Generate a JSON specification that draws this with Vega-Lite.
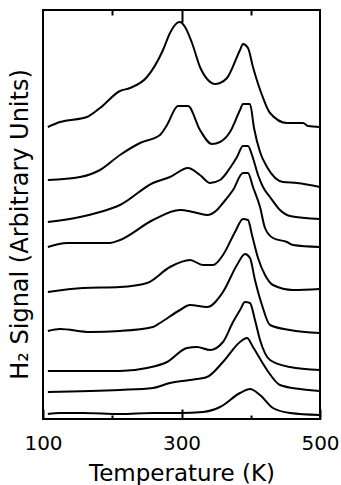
{
  "$schema": "https://vega.github.io/schema/vega-lite/v6.json",
  "width": 277,
  "height": 409,
  "autosize": "none",
  "padding": {"left": 43, "top": 10, "right": 21, "bottom": 66},
  "background": "white",
  "config": {"view": {"stroke": "black", "strokeWidth": 2}, "font": "DejaVu Sans"},
  "data": {"values": [
    {"c":1,"t":107,"v":292},{"c":1,"t":124.5,"v":297},{"c":1,"t":163.5,"v":302},{"c":1,"t":182.3,"v":311},{"c":1,"t":211.2,"v":328},{"c":1,"t":225.6,"v":331},{"c":1,"t":250.2,"v":342},{"c":1,"t":273.3,"v":369},{"c":1,"t":283.4,"v":386},{"c":1,"t":293.5,"v":396},{"c":1,"t":297.8,"v":397},{"c":1,"t":305.1,"v":392},{"c":1,"t":315.2,"v":376},{"c":1,"t":326.7,"v":352},{"c":1,"t":338.3,"v":339},{"c":1,"t":348.4,"v":335},{"c":1,"t":355.6,"v":336},{"c":1,"t":365.7,"v":341},{"c":1,"t":384.5,"v":369},{"c":1,"t":388.8,"v":375},{"c":1,"t":396,"v":371},{"c":1,"t":403.2,"v":352},{"c":1,"t":416.2,"v":324},{"c":1,"t":427.8,"v":306},{"c":1,"t":452.3,"v":296},{"c":1,"t":475.5,"v":296},{"c":1,"t":482.7,"v":293},{"c":1,"t":500,"v":292},
    {"c":2,"t":107,"v":239},{"c":2,"t":153.4,"v":242},{"c":2,"t":182.3,"v":249},{"c":2,"t":211.2,"v":264},{"c":2,"t":240.1,"v":276},{"c":2,"t":268.9,"v":284},{"c":2,"t":279.1,"v":294},{"c":2,"t":294.9,"v":313},{"c":2,"t":309.4,"v":313},{"c":2,"t":326.7,"v":289},{"c":2,"t":344,"v":275},{"c":2,"t":355.6,"v":277},{"c":2,"t":370,"v":287},{"c":2,"t":384.5,"v":309},{"c":2,"t":388.8,"v":315},{"c":2,"t":398.9,"v":315},{"c":2,"t":404.7,"v":291},{"c":2,"t":413.4,"v":267},{"c":2,"t":423.5,"v":252},{"c":2,"t":446.6,"v":237},{"c":2,"t":466.8,"v":236},{"c":2,"t":500,"v":232},
    {"c":3,"t":107,"v":197},{"c":3,"t":153.4,"v":202},{"c":3,"t":182.3,"v":207},{"c":3,"t":211.2,"v":214},{"c":3,"t":258.8,"v":236},{"c":3,"t":283.4,"v":242},{"c":3,"t":309.4,"v":251},{"c":3,"t":326.7,"v":244},{"c":3,"t":341.2,"v":236},{"c":3,"t":355.6,"v":239},{"c":3,"t":370,"v":251},{"c":3,"t":380.1,"v":262},{"c":3,"t":388.8,"v":273},{"c":3,"t":396,"v":273},{"c":3,"t":401.8,"v":264},{"c":3,"t":410.5,"v":244},{"c":3,"t":417.7,"v":232},{"c":3,"t":427.8,"v":222},{"c":3,"t":442.2,"v":209},{"c":3,"t":456.7,"v":203},{"c":3,"t":500,"v":200},
    {"c":4,"t":107,"v":172},{"c":4,"t":134.7,"v":176},{"c":4,"t":196.8,"v":176},{"c":4,"t":211.2,"v":179},{"c":4,"t":258.8,"v":199},{"c":4,"t":297.8,"v":209},{"c":4,"t":316.6,"v":207},{"c":4,"t":336.8,"v":204},{"c":4,"t":351.3,"v":209},{"c":4,"t":359.9,"v":216},{"c":4,"t":374.4,"v":229},{"c":4,"t":388.8,"v":246},{"c":4,"t":396,"v":246},{"c":4,"t":403.2,"v":232},{"c":4,"t":413.4,"v":212},{"c":4,"t":420.6,"v":191},{"c":4,"t":432.1,"v":181},{"c":4,"t":452.3,"v":177},{"c":4,"t":461,"v":174},{"c":4,"t":500,"v":172},
    {"c":5,"t":107,"v":127},{"c":5,"t":157.8,"v":131},{"c":5,"t":211.2,"v":132},{"c":5,"t":250.2,"v":136},{"c":5,"t":283.4,"v":152},{"c":5,"t":312.3,"v":159},{"c":5,"t":331,"v":154},{"c":5,"t":345.5,"v":154},{"c":5,"t":359.9,"v":164},{"c":5,"t":377.3,"v":187},{"c":5,"t":388.8,"v":200},{"c":5,"t":396,"v":199},{"c":5,"t":401.8,"v":184},{"c":5,"t":410.5,"v":161},{"c":5,"t":420.6,"v":144},{"c":5,"t":432.1,"v":134},{"c":5,"t":461,"v":129},{"c":5,"t":500,"v":130},
    {"c":6,"t":107,"v":88},{"c":6,"t":124.5,"v":90},{"c":6,"t":167.9,"v":87},{"c":6,"t":211.2,"v":88},{"c":6,"t":258.8,"v":92},{"c":6,"t":268.9,"v":96},{"c":6,"t":297.8,"v":109},{"c":6,"t":312.3,"v":114},{"c":6,"t":336.8,"v":112},{"c":6,"t":359.9,"v":127},{"c":6,"t":380.1,"v":154},{"c":6,"t":391.7,"v":165},{"c":6,"t":398.9,"v":161},{"c":6,"t":406.1,"v":139},{"c":6,"t":416.2,"v":114},{"c":6,"t":427.8,"v":94},{"c":6,"t":456.7,"v":89},{"c":6,"t":500,"v":86},
    {"c":7,"t":107,"v":48},{"c":7,"t":211.2,"v":48},{"c":7,"t":250.2,"v":51},{"c":7,"t":279.1,"v":57},{"c":7,"t":307.9,"v":71},{"c":7,"t":322.4,"v":72},{"c":7,"t":341.2,"v":69},{"c":7,"t":359.9,"v":77},{"c":7,"t":374.4,"v":97},{"c":7,"t":384.5,"v":109},{"c":7,"t":391.7,"v":117},{"c":7,"t":398.9,"v":116},{"c":7,"t":406.1,"v":99},{"c":7,"t":413.4,"v":79},{"c":7,"t":427.8,"v":59},{"c":7,"t":456.7,"v":52},{"c":7,"t":500,"v":49},
    {"c":8,"t":107,"v":27},{"c":8,"t":211.2,"v":29},{"c":8,"t":258.8,"v":31},{"c":8,"t":283.4,"v":36},{"c":8,"t":312.3,"v":39},{"c":8,"t":336.8,"v":42},{"c":8,"t":359.9,"v":57},{"c":8,"t":384.5,"v":77},{"c":8,"t":394.6,"v":81},{"c":8,"t":403.2,"v":72},{"c":8,"t":423.5,"v":49},{"c":8,"t":442.2,"v":34},{"c":8,"t":471.1,"v":30},{"c":8,"t":500,"v":28},
    {"c":9,"t":107,"v":5},{"c":9,"t":124.5,"v":6},{"c":9,"t":157.8,"v":6},{"c":9,"t":211.2,"v":5},{"c":9,"t":258.8,"v":6},{"c":9,"t":297.8,"v":6},{"c":9,"t":331,"v":7},{"c":9,"t":355.6,"v":12},{"c":9,"t":384.5,"v":26},{"c":9,"t":398.9,"v":30},{"c":9,"t":413.4,"v":24},{"c":9,"t":432.1,"v":11},{"c":9,"t":456.7,"v":6},{"c":9,"t":500,"v":4}
  ]},
  "encoding": {
    "y": {"field": "v", "type": "quantitative", "scale": {"domain": [0, 409], "nice": false, "zero": false},
      "axis": {"ticks": false, "labels": false, "domain": false, "grid": false,
        "title": "H₂ Signal (Arbitrary Units)", "titleFontSize": 24, "titleFontWeight": "normal", "titleColor": "black",
        "titleX": -16, "titleY": 214, "titleAngle": -90, "titleAlign": "center", "titleBaseline": "alphabetic"}},
    "detail": {"field": "c", "type": "nominal"}
  },
  "layer": [
    {
      "transform": [{"filter": "datum.c <= 2"}],
      "mark": {"type": "line", "color": "black", "strokeWidth": 2, "interpolate": "monotone"},
      "encoding": {
        "x": {"field": "t", "type": "quantitative", "scale": {"domain": [100, 500], "nice": false, "zero": false},
          "axis": {"orient": "bottom", "values": [100, 300, 500], "grid": false, "domain": false,
            "tickSize": -10, "tickColor": "black", "tickWidth": 2,
            "labelFontSize": 20, "labelColor": "black", "labelPadding": 24, "labelBaseline": "top", "labelFlush": false,
            "title": "Temperature (K)", "titleFontSize": 23, "titleFontWeight": "normal", "titleColor": "black",
            "titleBaseline": "alphabetic", "titleY": 61}}
      }
    },
    {
      "transform": [{"filter": "datum.c >= 3 && datum.c <= 4"}],
      "mark": {"type": "line", "color": "black", "strokeWidth": 2, "interpolate": "monotone"},
      "encoding": {
        "x": {"field": "t", "type": "quantitative", "scale": {"domain": [100, 500], "nice": false, "zero": false},
          "axis": {"orient": "bottom", "values": [200, 400], "grid": false, "domain": false, "labels": false,
            "tickSize": -4, "tickColor": "black", "tickWidth": 2, "title": null}}
      }
    },
    {
      "transform": [{"filter": "datum.c >= 5 && datum.c <= 6"}],
      "mark": {"type": "line", "color": "black", "strokeWidth": 2, "interpolate": "monotone"},
      "encoding": {
        "x": {"field": "t", "type": "quantitative", "scale": {"domain": [100, 500], "nice": false, "zero": false},
          "axis": {"orient": "top", "values": [300], "grid": false, "domain": false, "labels": false,
            "tickSize": -12, "tickColor": "black", "tickWidth": 2, "title": null}}
      }
    },
    {
      "transform": [{"filter": "datum.c >= 7"}],
      "mark": {"type": "line", "color": "black", "strokeWidth": 2, "interpolate": "monotone"},
      "encoding": {
        "x": {"field": "t", "type": "quantitative", "scale": {"domain": [100, 500], "nice": false, "zero": false},
          "axis": {"orient": "top", "values": [200, 400], "grid": false, "domain": false, "labels": false,
            "tickSize": -5, "tickColor": "black", "tickWidth": 2, "title": null}}
      }
    }
  ],
  "resolve": {"axis": {"x": "independent"}}
}
